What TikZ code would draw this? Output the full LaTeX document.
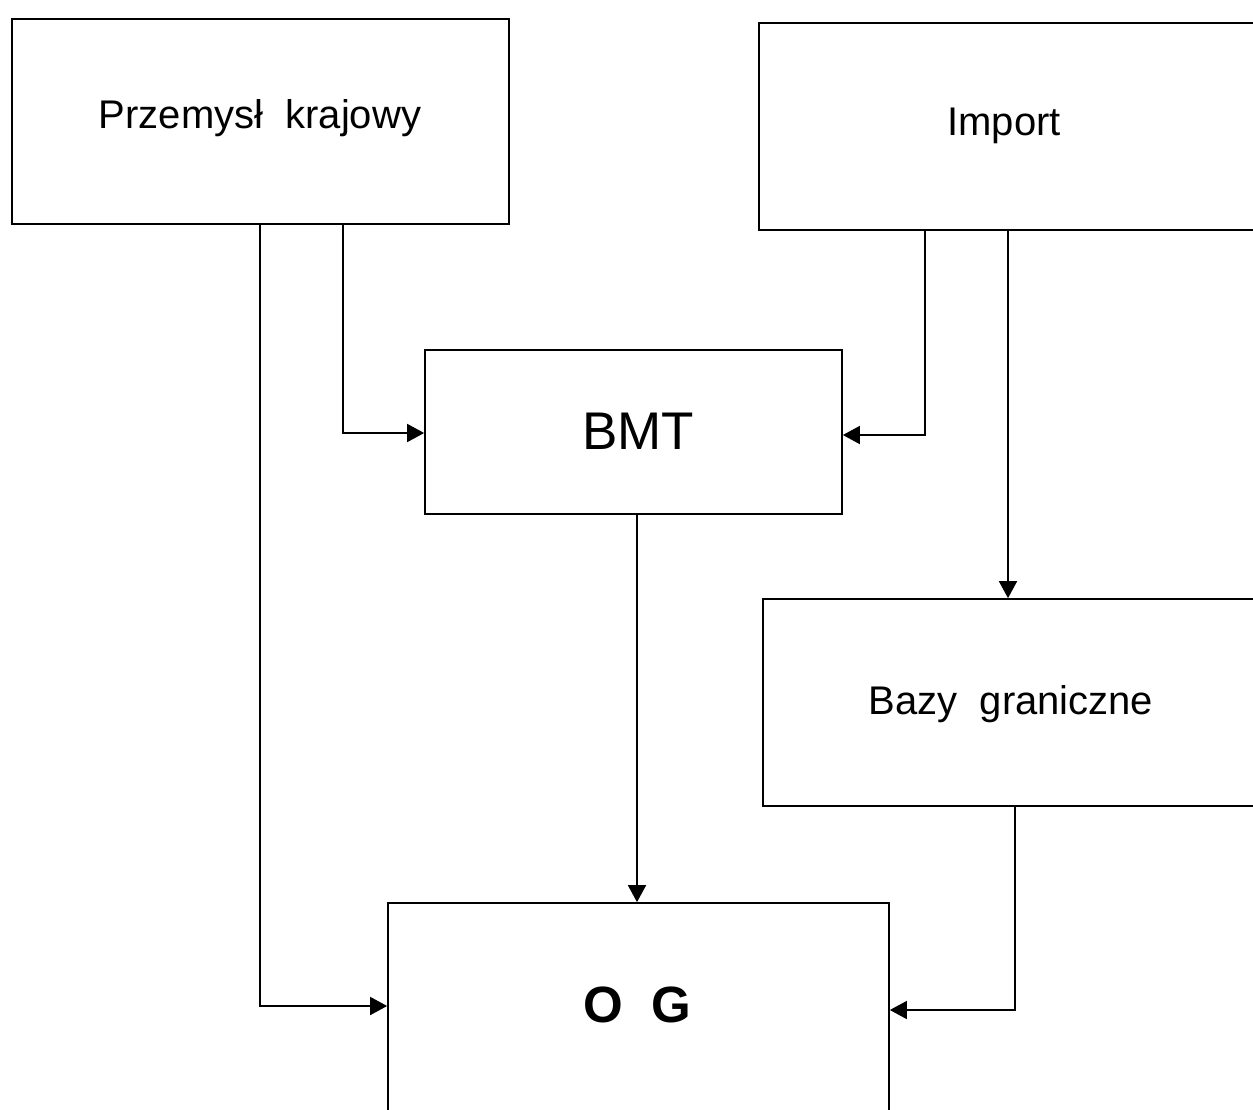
\documentclass[tikz,border=0pt]{standalone}
\usepackage{fontspec}
\setmainfont{Liberation Sans}
\usetikzlibrary{arrows.meta,positioning}
\begin{document}
\begin{tikzpicture}[x=1pt,y=-1pt,
  box/.style={draw,line width=1.7pt,inner sep=0pt,minimum width=#1},
  txt/.style={font=\fontsize{40}{46}\selectfont},
  big/.style={font=\fontsize{53}{60}\selectfont},
  flow/.style={line width=1.7pt,-{Triangle[length=17pt,width=18pt]}},
]
\useasboundingbox (0,0) rectangle (1253,1109);
\clip (0,0) rectangle (1253,1109);

% sources
\node[box=497pt,minimum height=205pt] (pk) at (260.5,121.5) {};
\node[txt] (pkt) at (260,118) {Przemysł\ \ krajowy};
\node[box=560pt,minimum height=207pt] (imp) at (1039,126.5) {};
\node[txt] (impt) at (1004,126) {Import};

% intermediate stages
\node[box=417pt,minimum height=164pt] (bmt) at (633.5,432) {};
\node[big] (bmtt) at (638,431) {BMT};
\node[box=560pt,minimum height=207pt] (bz) at (1043,702.5) {};
\node[txt] (bzt) at (1011,704) {Bazy\ \ graniczne};

% destination
\node[box=501pt,minimum height=300pt] (og) at (638.5,1053) {};
\node[font=\fontsize{51}{58}\selectfont\bfseries] (ogt) at (637,1005) {O\ \ G};

% branch points on the box edges
\coordinate (a1) at (260,0);
\coordinate (a2) at (343,0);
\coordinate (b1) at (925,0);
\coordinate (b2) at (1008,0);
\coordinate (c1) at (637,0);
\coordinate (d1) at (1015,0);
\coordinate (yog) at (0,1006);
\coordinate (ybm) at (0,433);
\coordinate (yog2) at (0,1010);
\coordinate (ybm2) at (0,435);

\draw[flow] (pk.south -| a1) |- (og.west |- yog);
\draw[flow] (pk.south -| a2) |- (bmt.west |- ybm);
\draw[flow] (imp.south -| b1) |- (bmt.east |- ybm2);
\draw[flow] (imp.south -| b2) -- (bz.north -| b2);
\draw[flow] (bmt.south -| c1) -- (og.north -| c1);
\draw[flow] (bz.south -| d1) |- (og.east |- yog2);
\end{tikzpicture}
\end{document}
